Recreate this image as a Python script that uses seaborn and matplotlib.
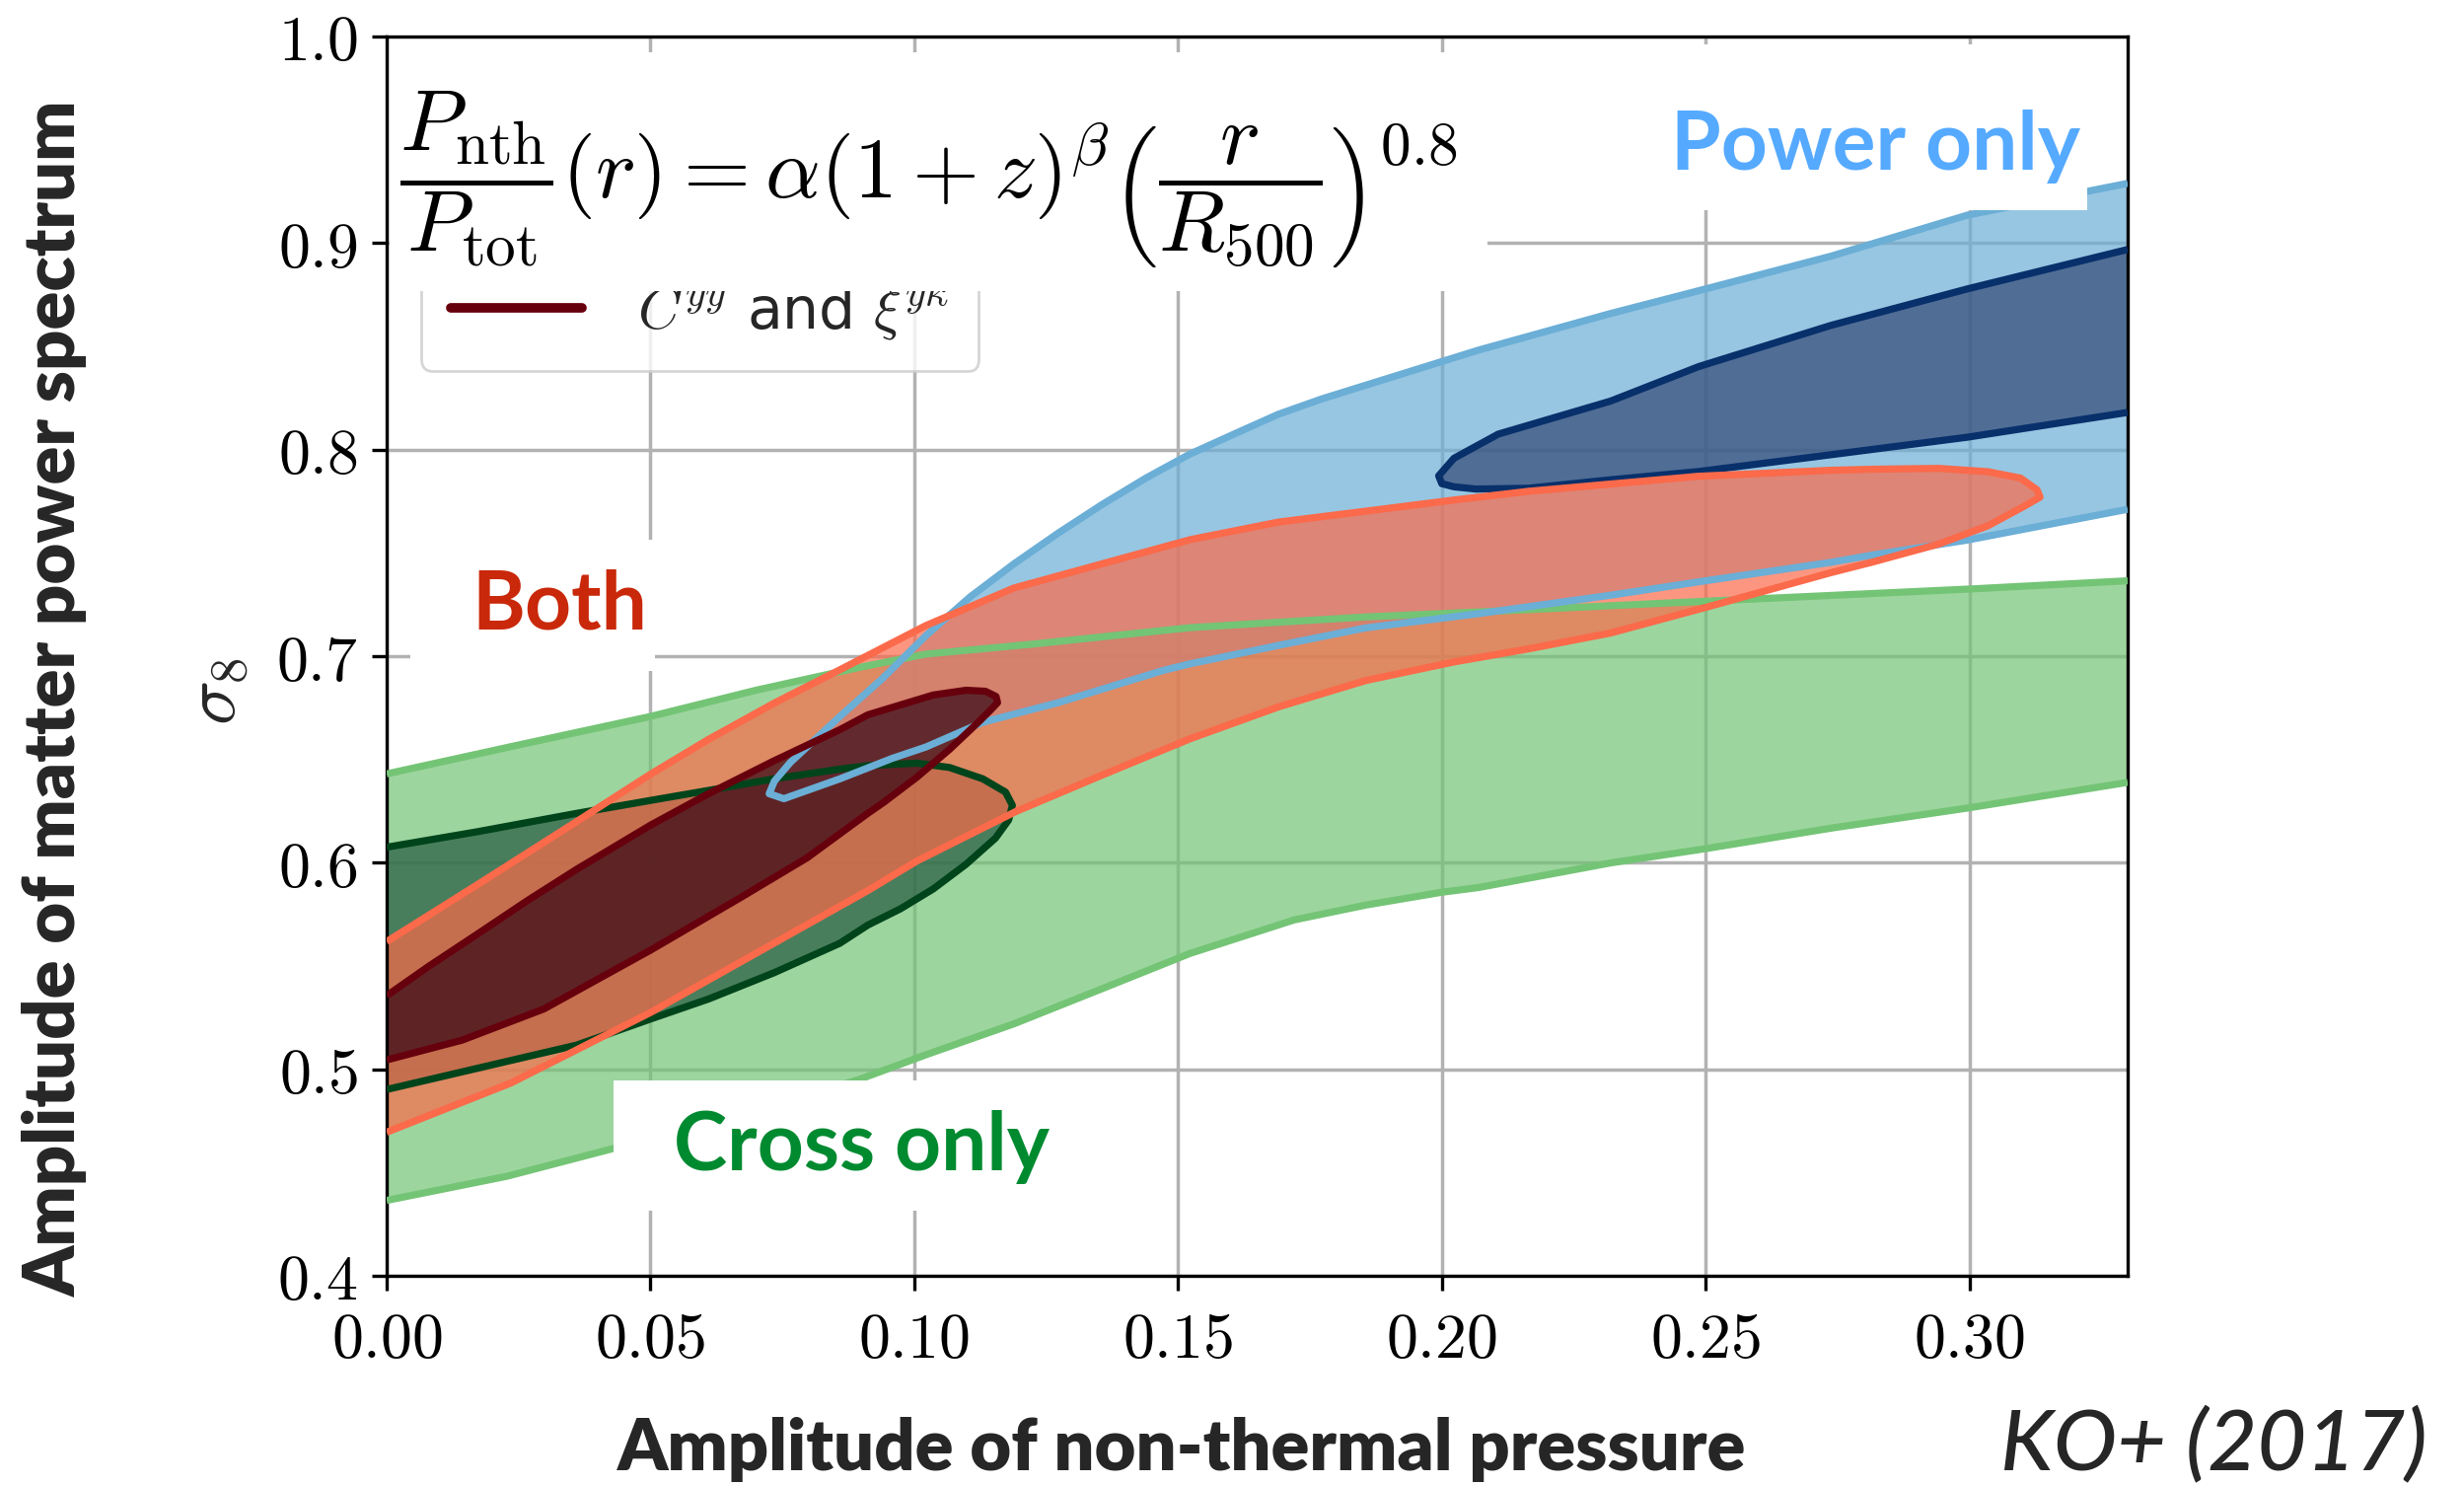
import matplotlib
matplotlib.use("Agg")
import matplotlib.pyplot as plt
import seaborn as sns
from matplotlib.lines import Line2D
from matplotlib.patches import Rectangle

# ---------------- data ----------------
xticks = [0.00, 0.05, 0.10, 0.15, 0.20, 0.25, 0.30]
yticks = [0.4, 0.5, 0.6, 0.7, 0.8, 0.9, 1.0]

# Cross only, 95% region (band: upper and lower edges)
cross95_up_x = [0.0, 0.025, 0.05, 0.07, 0.0895, 0.1022, 0.1223, 0.1523, 0.1856, 0.207, 0.25, 0.30, 0.33]
cross95_up_y = [0.643, 0.657, 0.6708, 0.6835, 0.6945, 0.701, 0.7058, 0.7138, 0.7190, 0.7214, 0.7266, 0.7325, 0.7365]
cross95_lo_x = [0.0, 0.0228, 0.042, 0.066, 0.0895, 0.1022, 0.1189, 0.1356, 0.1523, 0.172, 0.1856,
                0.20, 0.207, 0.232, 0.25, 0.2737, 0.30, 0.33]
cross95_lo_y = [0.4365, 0.4482, 0.4610, 0.477, 0.495, 0.507, 0.522, 0.539, 0.5561, 0.5723, 0.5795,
                0.5857, 0.588, 0.5999, 0.6068, 0.6167, 0.6266, 0.6389]

# Cross only, 68% region
cross68_x = [0.0, 0.0174, 0.036, 0.0501, 0.061, 0.0734, 0.0859, 0.0912, 0.1005, 0.1067, 0.1130, 0.1173, 0.1186,
             0.1179, 0.1154, 0.1098, 0.1036, 0.0974, 0.0912, 0.0859, 0.0734, 0.061, 0.0501, 0.036, 0.0174, 0.0]
cross68_y = [0.6075, 0.6151, 0.6239, 0.6302, 0.635, 0.6406, 0.6453, 0.6470, 0.6482, 0.6461, 0.6406, 0.6342, 0.6278,
             0.6207, 0.6119, 0.5992, 0.5873, 0.5777, 0.5698, 0.5610, 0.5467, 0.534, 0.5244, 0.5117, 0.5006, 0.4902]

# Power only, 95% region
power95_x = [0.33, 0.2996, 0.2737, 0.25, 0.232, 0.207, 0.1773, 0.169, 0.1606, 0.1523, 0.1439, 0.1356,
             0.1273, 0.1189, 0.1106, 0.1022, 0.0939, 0.0859, 0.0765, 0.0735, 0.0725,
             0.0753, 0.0859, 0.0958, 0.1022, 0.1130, 0.1273, 0.1472, 0.1523, 0.169, 0.1856,
             0.207, 0.232, 0.25, 0.2737, 0.2817, 0.2996, 0.33]
power95_y = [0.9289, 0.9135, 0.8936, 0.8778, 0.8659, 0.8482, 0.8246, 0.8171, 0.8075, 0.7979, 0.7862, 0.7734,
             0.7596, 0.7447, 0.7287, 0.7099, 0.689, 0.6708, 0.6485, 0.6395, 0.6334,
             0.6310, 0.6406, 0.6505, 0.6560, 0.6680, 0.6775, 0.6931, 0.6963, 0.7052, 0.7137,
             0.7206, 0.7295, 0.7365, 0.7454, 0.7490, 0.7562, 0.7711]

# Power only, 68% region
power68_x = [0.33, 0.2996, 0.2737, 0.2487, 0.232, 0.2107, 0.2023, 0.1994, 0.2000,
             0.2023, 0.2065, 0.2164, 0.232, 0.2487, 0.2737, 0.2996, 0.33]
power68_y = [0.8969, 0.8778, 0.8601, 0.8402, 0.8235, 0.8075, 0.7958, 0.7873, 0.7835,
             0.782, 0.7809, 0.7813, 0.7854, 0.7894, 0.7975, 0.806, 0.818]

# Both, 95% region
both95_x = [0.0, 0.0174, 0.036, 0.0501, 0.061, 0.0734, 0.0856, 0.1022, 0.1189, 0.1356, 0.1523, 0.169, 0.1856,
            0.2023, 0.2164, 0.2487, 0.2737, 0.2817, 0.2942, 0.3035, 0.3097, 0.3128, 0.3134,
            0.3104, 0.3035, 0.2942, 0.2817, 0.2737, 0.25, 0.232, 0.2164, 0.2023, 0.1856, 0.169, 0.1523,
            0.1356, 0.1192, 0.1005, 0.0912, 0.0734, 0.0501, 0.0236, 0.0]
both95_y = [0.5618, 0.5897, 0.6199, 0.643, 0.6597, 0.6772, 0.693, 0.7148, 0.733, 0.7447, 0.7564, 0.7649, 0.7702,
            0.7756, 0.7798, 0.7871, 0.7900, 0.7905, 0.7909, 0.7893, 0.7862, 0.7806, 0.7770,
            0.7726, 0.7631, 0.7543, 0.7456, 0.7404, 0.7236, 0.7112, 0.7035, 0.6972, 0.6882, 0.6754, 0.6600,
            0.6424, 0.6247, 0.6008, 0.5865, 0.5610, 0.5276, 0.4934, 0.4695]

# Both, 68% region
both68_x = [0.0, 0.008, 0.0174, 0.0267, 0.036, 0.0501, 0.061, 0.0734, 0.0859, 0.0912, 0.0974, 0.1036, 0.1098,
            0.1135, 0.1155, 0.1158, 0.1145, 0.1123, 0.1067, 0.1005, 0.0943, 0.0912, 0.0797, 0.0672, 0.0501,
            0.0298, 0.0143, 0.0]
both68_y = [0.5356, 0.5499, 0.5658, 0.5817, 0.5968, 0.6183, 0.6334, 0.6493, 0.6644, 0.6716, 0.6764, 0.6812, 0.6835,
            0.6830, 0.6805, 0.6775, 0.6740, 0.6684, 0.6549, 0.6414, 0.6294, 0.6239, 0.6024, 0.5833, 0.5578,
            0.5292, 0.5141, 0.5045]

legend_labels = [r"$C^{yy}$", r"$\xi^{y\kappa}$", r"$C^{yy}$ and $\xi^{y\kappa}$"]

# ---------------- style ----------------
sns.set_theme(style="whitegrid")
plt.rcParams["font.family"] = ["DejaVu Sans"]
plt.rcParams["mathtext.fontset"] = "cm"

GREEN, GREEN_D, GREEN_IN = "#74c476", "#00441b", "#265a42"
BLUE, BLUE_D, BLUE_IN = "#6baed6", "#08306b", "#324775"
RED, RED_D, RED_IN = "#fb6a4a", "#67000d", "#320514"

W, H = 2498, 1505
fig = plt.figure(figsize=(W / 100, H / 100), dpi=100)
fig.patch.set_facecolor("white")
ax = fig.add_axes([392 / W, (H - 1293) / H, 1765 / W, 1256 / H])
ax.set_facecolor("white")

def fx(px):
    return px / W

def fy(py):
    return 1 - py / H

# fills
A = 0.7
ax.fill(cross95_up_x + cross95_lo_x[::-1], cross95_up_y + cross95_lo_y[::-1], color=GREEN, alpha=A, lw=0, zorder=1)
ax.fill(cross68_x, cross68_y, color=GREEN_IN, alpha=A, lw=0, zorder=1.1)
ax.fill(power95_x, power95_y, color=BLUE, alpha=A, lw=0, zorder=1.2)
ax.fill(power68_x, power68_y, color=BLUE_IN, alpha=A, lw=0, zorder=1.3)
ax.fill(both95_x, both95_y, color=RED, alpha=A, lw=0, zorder=1.4)
ax.fill(both68_x, both68_y, color=RED_IN, alpha=A, lw=0, zorder=1.5)

# contour edges
LW = 5.2
lines = [
    (cross95_up_x, cross95_up_y, GREEN, 3.0),
    (cross95_lo_x, cross95_lo_y, GREEN, 3.0),
    (cross68_x, cross68_y, GREEN_D, 3.1),
    (power95_x, power95_y, BLUE, 3.2),
    (power68_x, power68_y, BLUE_D, 3.3),
    (both95_x, both95_y, RED, 3.4),
    (both68_x, both68_y, RED_D, 3.5),
]
for xs, ys, c, z in lines:
    sns.lineplot(x=xs, y=ys, sort=False, estimator=None, color=c, linewidth=LW,
                 ax=ax, zorder=z, legend=False, solid_capstyle="butt", solid_joinstyle="round")

# axes
ax.set_xlim(0, 0.33)
ax.set_ylim(0.4, 1.0)
ax.set_xticks(xticks)
ax.set_xticklabels([f"${t:.2f}$" for t in xticks])
ax.set_yticks(yticks)
ax.set_yticklabels([f"${t:.1f}$" for t in yticks])
ax.tick_params(axis="both", which="major", length=10.8, width=2.4, direction="out",
               color="black", labelsize=46, labelcolor="black", bottom=True, left=True)
ax.tick_params(axis="x", pad=14)
ax.tick_params(axis="y", pad=10)
ax.grid(True, color="#b2b2b2", linewidth=2.5)
ax.set_axisbelow(True)
for s in ax.spines.values():
    s.set_color("black")
    s.set_linewidth(2.4)
ax.set_xlabel("")
ax.set_ylabel("")

# legend (mostly hidden behind the formula box)
handles = [Line2D([], [], color=BLUE, lw=7), Line2D([], [], color=GREEN, lw=7), Line2D([], [], color=RED_D, lw=7)]
leg = ax.legend(handles, legend_labels, loc="lower left", bbox_to_anchor=(fx(427), fy(376)),
                bbox_transform=fig.transFigure, borderaxespad=0, fontsize=42, handlelength=2.27,
                handletextpad=0.96, borderpad=0.52, frameon=True, fancybox=True, framealpha=0.8,
                edgecolor="0.8")
leg.get_frame().set_linewidth(2.0)
leg.set_zorder(10)

# white boxes
for (x0, y0, x1, y1) in [(395, 53, 1508, 295), (1660, 45, 2116, 213), (416, 547, 664, 680), (622, 1095, 1100, 1227)]:
    ax.add_patch(Rectangle((fx(x0), fy(y1)), fx(x1) - fx(x0), fy(y0) - fy(y1), transform=fig.transFigure,
                           facecolor="white", edgecolor="none", zorder=11, clip_on=False))

# formula
ax.text(fx(405), fy(182),
        r"$\dfrac{P_{\mathrm{nth}}}{P_{\mathrm{tot}}}(r) = \alpha(1+z)^{\beta}\left(\dfrac{r}{R_{500}}\right)^{0.8}$",
        transform=fig.transFigure, fontsize=63, ha="left", va="center", zorder=12, color="black")

# annotations
ann = dict(family=["Lato", "DejaVu Sans"], fontweight="bold", fontsize=59, zorder=12)
ax.text(fx(1694), fy(172), "Power only", color="#55aaff", transform=fig.transFigure, ha="left", va="baseline", **ann)
ax.text(fx(478), fy(638), "Both", color="#c9280a", transform=fig.transFigure, ha="left", va="baseline", **ann)
ax.text(fx(683), fy(1186), "Cross only", color="#008a30", transform=fig.transFigure, ha="left", va="baseline", **ann)

# axis labels
fig.text(fx(219), fy(701), r"$\sigma_8$", fontsize=54, rotation=90, ha="center", va="center")
fig.text(fx(56), fy(708), "Amplitude of matter power spectrum", family=["Lato", "DejaVu Sans"],
         fontweight="heavy", fontsize=52, rotation=90, ha="center", va="center")
fig.text(fx(1198), fy(1490), "Amplitude of non-thermal pressure", family=["Lato", "DejaVu Sans"],
         fontweight="heavy", fontsize=52, ha="center", va="baseline")
fig.text(fx(2028), fy(1490), "KO+ (2017)", family=["Lato", "DejaVu Sans"], style="italic",
         fontweight="medium", fontsize=62, ha="left", va="baseline")

fig.savefig("out.png", dpi=100, facecolor="white")
